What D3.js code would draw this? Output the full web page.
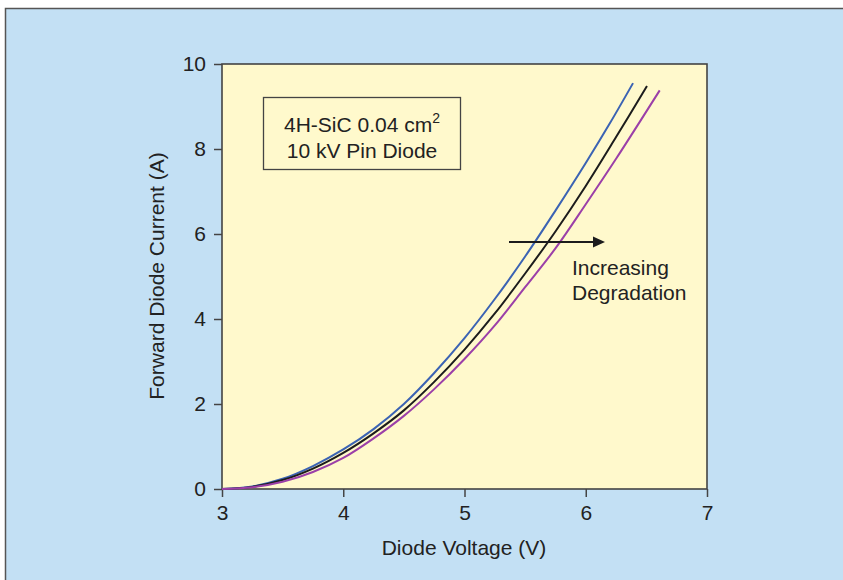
<!DOCTYPE html>
<html><head><meta charset="utf-8">
<script src="https://cdn.jsdelivr.net/npm/d3@7"></script>
<style>body{margin:0;background:#fff}svg{display:block;font-family:"Liberation Sans",Arial,sans-serif}</style>
</head><body><svg id="c" width="843" height="580"></svg>
<script>
const xTicks=[3,4,5,6,7];
const yTicks=[0,2,4,6,8,10];
const seriesColors=["#3b63b3","#1c1c1c","#9b3fa8"];
const blueV=[3.0,3.25,3.5,3.75,4.0,4.25,4.5,4.75,5.0,5.25,5.5,5.75,6.0,6.2,6.39];
const blueI=[0,0.06,0.24,0.54,0.93,1.41,2.0,2.73,3.55,4.47,5.47,6.55,7.67,8.61,9.55];
const blackV=[3.0,3.25,3.5,3.75,4.0,4.25,4.5,4.75,5.0,5.25,5.5,5.75,6.0,6.25,6.505];
const blackI=[0,0.05,0.21,0.48,0.85,1.31,1.85,2.52,3.28,4.13,5.07,6.06,7.13,8.28,9.48];
const purpleV=[3.0,3.25,3.5,3.75,4.0,4.25,4.5,4.75,5.0,5.25,5.5,5.75,6.0,6.25,6.61];
const purpleI=[0,0.04,0.17,0.40,0.73,1.19,1.72,2.35,3.06,3.85,4.75,5.66,6.70,7.77,9.38];
const series=[[blueV,blueI],[blackV,blackI],[purpleV,purpleI]];

const FS=21;
const svg=d3.select("#c");
svg.append("rect").attr("x",5.5).attr("y",8.5).attr("width",850).attr("height",600)
  .attr("fill","#c3e0f4").attr("stroke","#555").attr("stroke-width",1.5);
const L=222,R=707,T=64,B=489;
const x=d3.scaleLinear().domain([3,7]).range([L,R]);
const y=d3.scaleLinear().domain([0,10]).range([B,T]);
svg.append("rect").attr("x",L).attr("y",T).attr("width",R-L).attr("height",B-T)
  .attr("fill","#fff9cc").attr("stroke","#444").attr("stroke-width",1.6);

const xa=svg.append("g").attr("transform",`translate(0,${B})`)
  .call(d3.axisBottom(x).tickValues(xTicks).tickFormat(d3.format("d")).tickSize(8).tickPadding(8));
const ya=svg.append("g").attr("transform",`translate(${L},0)`)
  .call(d3.axisLeft(y).tickValues(yTicks).tickFormat(d3.format("d")).tickSize(8).tickPadding(8));
[xa,ya].forEach(a=>{a.select(".domain").remove();
  a.attr("font-size",FS).attr("font-family","Liberation Sans, Arial, sans-serif");
  a.selectAll("line").attr("stroke","#444").attr("stroke-width",1.5);
  a.selectAll("text").attr("fill","#222");});

const line=d3.line().x(d=>x(d[0])).y(d=>y(d[1])).curve(d3.curveCatmullRom.alpha(0.5));
series.forEach((s,i)=>{
  const pts=s[0].map((v,j)=>[v,s[1][j]]);
  svg.append("path").datum(pts).attr("d",line).attr("fill","none")
    .attr("stroke",seriesColors[i]).attr("stroke-width",2);
});

// annotation box
svg.append("rect").attr("x",263.5).attr("y",97.5).attr("width",197).attr("height",72)
  .attr("fill","none").attr("stroke","#444").attr("stroke-width",1.3);
const t1=svg.append("text").attr("x",362).attr("y",132).attr("text-anchor","middle")
  .attr("font-size",FS).attr("fill","#222");
t1.append("tspan").text("4H-SiC 0.04 cm");
t1.append("tspan").attr("dy",-9).attr("font-size",14).text("2");
svg.append("text").attr("x",362).attr("y",158).attr("text-anchor","middle")
  .attr("font-size",FS).attr("fill","#222").text("10 kV Pin Diode");

// arrow
svg.append("line").attr("x1",509).attr("y1",242).attr("x2",594).attr("y2",242)
  .attr("stroke","#1c1c1c").attr("stroke-width",2);
svg.append("path").attr("d","M593,236.5L605,242L593,247.5Z").attr("fill","#1c1c1c");
svg.append("text").attr("x",572).attr("y",275).attr("font-size",FS).attr("fill","#222").text("Increasing");
svg.append("text").attr("x",572).attr("y",300).attr("font-size",FS).attr("fill","#222").text("Degradation");

svg.append("text").attr("x",464).attr("y",555).attr("text-anchor","middle")
  .attr("font-size",FS).attr("fill","#222").text("Diode Voltage (V)");
svg.append("text").attr("transform","translate(164,276) rotate(-90)").attr("text-anchor","middle")
  .attr("font-size",FS).attr("fill","#222").text("Forward Diode Current (A)");
</script></body></html>
